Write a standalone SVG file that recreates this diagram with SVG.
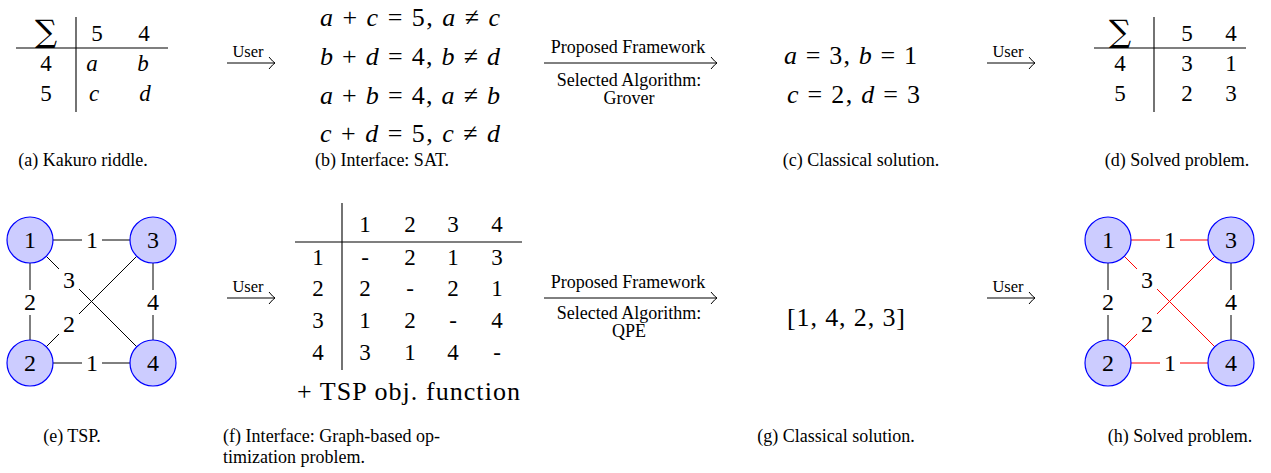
<svg xmlns="http://www.w3.org/2000/svg" width="1271" height="473" viewBox="0 0 1271 473">
<style>
text{font-family:"Liberation Serif","Times New Roman",serif;fill:#000}
.cap{font-size:18px}
.cap-c{font-size:18px;text-anchor:middle}
.m{font-size:26px}
.t{font-size:23px;text-anchor:middle}
.i{font-style:italic}
.lab{font-size:18px;text-anchor:middle}
.usr{font-size:16.5px;text-anchor:middle}
.sig{font-family:"DejaVu Serif",serif;font-size:31px;text-anchor:middle}
.ln{stroke:#000;stroke-width:1.1;fill:none}
.arr{stroke:#000;stroke-width:1;fill:none}
.node{fill:#ccccff;stroke:#0000ff;stroke-width:1.2}
.nl{font-size:24px;text-anchor:middle}
.e{stroke:#000;stroke-width:1;fill:none}
.r{stroke:#ff0000;stroke-width:1;fill:none}
.bg{fill:#fff}
.el{font-size:24px;text-anchor:middle}
</style>
<defs>
<marker id="ah" viewBox="-8 -7 9 14" markerWidth="9" markerHeight="14" refX="0" refY="0" orient="auto" markerUnits="userSpaceOnUse">
<path d="M-6,-6 Q-2,-1 0,0 Q-2,1 -6,6" stroke="#000" stroke-width="1" fill="none"/>
</marker>
</defs>

<!-- (a) Kakuro riddle -->
<g id="kakuro-riddle">
<line class="ln" x1="16" y1="48" x2="168" y2="48"/>
<line class="ln" x1="76" y1="17" x2="76" y2="112"/>
<text class="sig" x="46" y="42">∑</text>
<text class="t" x="97" y="41">5</text>
<text class="t" x="144" y="41">4</text>
<text class="t" x="46" y="71">4</text>
<text class="t i" x="92" y="71">a</text>
<text class="t i" x="143" y="71">b</text>
<text class="t" x="46" y="101">5</text>
<text class="t i" x="94" y="101">c</text>
<text class="t i" x="145" y="101">d</text>
<text class="cap-c" x="83" y="166">(a) Kakuro riddle.</text>
</g>

<!-- (b) SAT interface -->
<g id="sat-interface">
<text class="m" x="320" y="26" textLength="180" lengthAdjust="spacing"><tspan class="i">a</tspan> + <tspan class="i">c</tspan> = 5, <tspan class="i">a</tspan> ≠ <tspan class="i">c</tspan></text>
<text class="m" x="320" y="65" textLength="180" lengthAdjust="spacing"><tspan class="i">b</tspan> + <tspan class="i">d</tspan> = 4, <tspan class="i">b</tspan> ≠ <tspan class="i">d</tspan></text>
<text class="m" x="320" y="104" textLength="180" lengthAdjust="spacing"><tspan class="i">a</tspan> + <tspan class="i">b</tspan> = 4, <tspan class="i">a</tspan> ≠ <tspan class="i">b</tspan></text>
<text class="m" x="320" y="142" textLength="180" lengthAdjust="spacing"><tspan class="i">c</tspan> + <tspan class="i">d</tspan> = 5, <tspan class="i">c</tspan> ≠ <tspan class="i">d</tspan></text>
<text class="cap-c" x="382" y="166">(b) Interface: SAT.</text>
</g>

<!-- (c) classical solution -->
<g id="classical-solution-1">
<text class="m" x="784" y="64" textLength="133" lengthAdjust="spacing"><tspan class="i">a</tspan> = 3, <tspan class="i">b</tspan> = 1</text>
<text class="m" x="787" y="103" textLength="133" lengthAdjust="spacing"><tspan class="i">c</tspan> = 2, <tspan class="i">d</tspan> = 3</text>
<text class="cap-c" x="861" y="166">(c) Classical solution.</text>
</g>

<!-- (d) solved -->
<g id="kakuro-solved">
<line class="ln" x1="1094" y1="48" x2="1246" y2="48"/>
<line class="ln" x1="1154" y1="17" x2="1154" y2="112"/>
<text class="sig" x="1120" y="42">∑</text>
<text class="t" x="1187" y="41">5</text>
<text class="t" x="1231" y="41">4</text>
<text class="t" x="1120" y="71">4</text>
<text class="t" x="1187" y="71">3</text>
<text class="t" x="1231" y="71">1</text>
<text class="t" x="1120" y="101">5</text>
<text class="t" x="1187" y="101">2</text>
<text class="t" x="1231" y="101">3</text>
<text class="cap-c" x="1177" y="166">(d) Solved problem.</text>
</g>

<!-- (e) TSP graph -->
<g id="tsp-graph">
<line class="e" x1="53" y1="240" x2="130" y2="240"/>
<line class="e" x1="30" y1="263" x2="30" y2="340"/>
<line class="e" x1="153" y1="263" x2="153" y2="340"/>
<line class="e" x1="53" y1="363" x2="130" y2="363"/>
<line class="e" x1="46.3" y1="256.3" x2="136.7" y2="346.7"/>
<line class="e" x1="46.3" y1="346.7" x2="136.7" y2="256.3"/>
<rect class="bg" x="82" y="228" width="20" height="25"/>
<rect class="bg" x="20" y="290" width="20" height="25"/>
<rect class="bg" x="143" y="290" width="20" height="25"/>
<rect class="bg" x="82" y="351" width="20" height="25"/>
<rect class="bg" x="59" y="268" width="20" height="25"/>
<rect class="bg" x="59" y="312" width="20" height="25"/>
<text class="el" x="92" y="248">1</text>
<text class="el" x="30" y="310">2</text>
<text class="el" x="153" y="310">4</text>
<text class="el" x="92" y="371">1</text>
<text class="el" x="69" y="288">3</text>
<text class="el" x="69" y="332">2</text>
<circle class="node" cx="30" cy="240" r="23"/>
<circle class="node" cx="153" cy="240" r="23"/>
<circle class="node" cx="30" cy="363" r="23"/>
<circle class="node" cx="153" cy="363" r="23"/>
<text class="nl" x="30" y="248">1</text>
<text class="nl" x="153" y="248">3</text>
<text class="nl" x="30" y="371">2</text>
<text class="nl" x="153" y="371">4</text>
<text class="cap-c" x="72" y="442">(e) TSP.</text>
</g>

<!-- (f) graph-based interface -->
<g id="graph-interface">
<line class="ln" x1="342" y1="203" x2="342" y2="370"/>
<line class="ln" x1="295" y1="242" x2="522" y2="242"/>
<text class="t" x="365" y="232">1</text>
<text class="t" x="410" y="232">2</text>
<text class="t" x="453" y="232">3</text>
<text class="t" x="497" y="232">4</text>
<text class="t" x="318" y="265">1</text>
<text class="t" x="365" y="265">-</text>
<text class="t" x="410" y="265">2</text>
<text class="t" x="453" y="265">1</text>
<text class="t" x="497" y="265">3</text>
<text class="t" x="318" y="296">2</text>
<text class="t" x="365" y="296">2</text>
<text class="t" x="410" y="296">-</text>
<text class="t" x="453" y="296">2</text>
<text class="t" x="497" y="296">1</text>
<text class="t" x="318" y="328">3</text>
<text class="t" x="365" y="328">1</text>
<text class="t" x="410" y="328">2</text>
<text class="t" x="453" y="328">-</text>
<text class="t" x="497" y="328">4</text>
<text class="t" x="318" y="360">4</text>
<text class="t" x="365" y="360">3</text>
<text class="t" x="410" y="360">1</text>
<text class="t" x="453" y="360">4</text>
<text class="t" x="497" y="360">-</text>
<text x="297" y="400" font-size="26" textLength="223" lengthAdjust="spacing">+ TSP obj. function</text>
<text class="cap" x="223" y="442" textLength="217" lengthAdjust="spacing">(f) Interface: Graph-based op-</text>
<text class="cap" x="223" y="463">timization problem.</text>
</g>

<!-- (g) classical solution -->
<g id="classical-solution-2">
<text class="m" x="787" y="326" textLength="118" lengthAdjust="spacing">[1, 4, 2, 3]</text>
<text class="cap-c" x="836" y="442">(g) Classical solution.</text>
</g>

<!-- (h) solved TSP -->
<g id="tsp-solved">
<line class="r" x1="1131" y1="240" x2="1208" y2="240"/>
<line class="e" x1="1108" y1="263" x2="1108" y2="340"/>
<line class="e" x1="1231" y1="263" x2="1231" y2="340"/>
<line class="r" x1="1131" y1="363" x2="1208" y2="363"/>
<line class="r" x1="1124.3" y1="256.3" x2="1214.7" y2="346.7"/>
<line class="r" x1="1124.3" y1="346.7" x2="1214.7" y2="256.3"/>
<rect class="bg" x="1160" y="228" width="20" height="25"/>
<rect class="bg" x="1098" y="290" width="20" height="25"/>
<rect class="bg" x="1221" y="290" width="20" height="25"/>
<rect class="bg" x="1160" y="351" width="20" height="25"/>
<rect class="bg" x="1137" y="268" width="20" height="25"/>
<rect class="bg" x="1137" y="312" width="20" height="25"/>
<text class="el" x="1170" y="248">1</text>
<text class="el" x="1108" y="310">2</text>
<text class="el" x="1231" y="310">4</text>
<text class="el" x="1170" y="371">1</text>
<text class="el" x="1147" y="288">3</text>
<text class="el" x="1147" y="332">2</text>
<circle class="node" cx="1108" cy="240" r="23"/>
<circle class="node" cx="1231" cy="240" r="23"/>
<circle class="node" cx="1108" cy="363" r="23"/>
<circle class="node" cx="1231" cy="363" r="23"/>
<text class="nl" x="1108" y="248">1</text>
<text class="nl" x="1231" y="248">3</text>
<text class="nl" x="1108" y="371">2</text>
<text class="nl" x="1231" y="371">4</text>
<text class="cap-c" x="1180" y="442">(h) Solved problem.</text>
</g>

<!-- connectors -->
<g id="connectors">
<line class="arr" x1="227" y1="63" x2="275" y2="63" marker-end="url(#ah)"/>
<text class="usr" x="248" y="57">User</text>
<line class="arr" x1="544" y1="63" x2="717" y2="63" marker-end="url(#ah)"/>
<text class="lab" x="628" y="53">Proposed Framework</text>
<text class="lab" x="629" y="86">Selected Algorithm:</text>
<text class="lab" x="629" y="104">Grover</text>
<line class="arr" x1="987" y1="63" x2="1035" y2="63" marker-end="url(#ah)"/>
<text class="usr" x="1008" y="57">User</text>

<line class="arr" x1="227" y1="298" x2="275" y2="298" marker-end="url(#ah)"/>
<text class="usr" x="248" y="292">User</text>
<line class="arr" x1="544" y1="298" x2="717" y2="298" marker-end="url(#ah)"/>
<text class="lab" x="628" y="288">Proposed Framework</text>
<text class="lab" x="629" y="319">Selected Algorithm:</text>
<text class="lab" x="629" y="337">QPE</text>
<line class="arr" x1="987" y1="298" x2="1035" y2="298" marker-end="url(#ah)"/>
<text class="usr" x="1008" y="292">User</text>
</g>
</svg>
